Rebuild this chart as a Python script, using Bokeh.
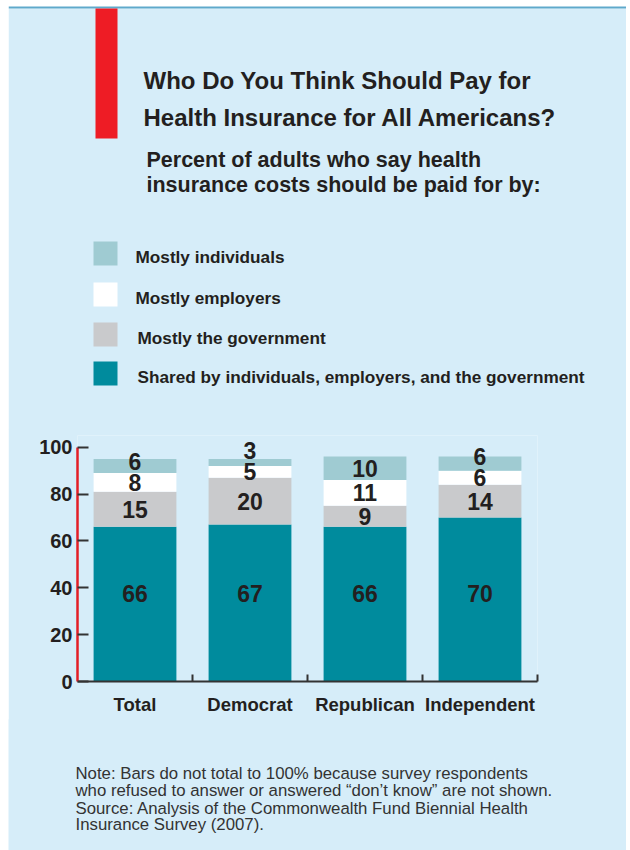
import numpy as np
from bokeh.plotting import figure
from bokeh.models import Range1d, FixedTicker, ColumnDataSource
from bokeh.core.properties import value
from bokeh.embed import file_html
from bokeh.resources import INLINE

# ---------------- data ----------------
categories = ["Total", "Democrat", "Republican", "Independent"]
series_names = [
    "Shared by individuals, employers, and the government",
    "Mostly the government",
    "Mostly employers",
    "Mostly individuals",
]
shared = [66, 67, 66, 70]
government = [15, 20, 9, 14]
employers = [8, 5, 11, 6]
individuals = [6, 3, 10, 6]
y_ticks = [0, 20, 40, 60, 80, 100]

title_lines = ["Who Do You Think Should Pay for", "Health Insurance for All Americans?"]
subtitle_lines = ["Percent of adults who say health", "insurance costs should be paid for by:"]
note_lines = [
    "Note: Bars do not total to 100% because survey respondents",
    "who refused to answer or answered \u201cdon\u2019t know\u201d are not shown.",
    "Source: Analysis of the Commonwealth Fund Biennial Health",
    "Insurance Survey (2007).",
]

# ---------------- style ----------------
colors = ["#008b9d", "#c9cacc", "#ffffff", "#9fcbd2"]
BG = "#d6edf9"
INK = "#231f20"
SANS = "Liberation Sans"
W = 618

def panel_figure(height, y0, y1, bg, top_margin):
    f = figure(width=W, height=height, x_range=Range1d(8, 626), y_range=Range1d(y1, y0),
               output_backend="svg", toolbar_location=None, x_axis_type=None,
               y_axis_type=None, min_border=0, outline_line_color=None,
               background_fill_color=bg, border_fill_color=bg,
               margin=(top_margin, 4, 0, 8))
    f.grid.visible = False
    return f

# ---------------- header (page y 0..430) ----------------
head = panel_figure(430, 0, 430, "white", 0)
head.quad(left=8, right=626, top=8, bottom=430, fill_color=BG, line_color=None)
head.quad(left=8, right=626, top=6, bottom=8, fill_color="#5fa9cb", line_color=None)
head.quad(left=95, right=117, top=8, bottom=138, fill_color="#ee1c25", line_color=None)

head.text(x=[143, 143], y=[80, 117], text=title_lines, text_font=value(SANS),
          text_font_style="bold", text_font_size="24px", text_color=INK,
          text_baseline="alphabetic", text_align="left")
head.text(x=[146, 146], y=[159, 184], text=subtitle_lines, text_font=value(SANS),
          text_font_style="bold", text_font_size="21.5px", text_color=INK,
          text_baseline="alphabetic", text_align="left")

leg_names = series_names[::-1]
leg_colors = colors[::-1]
leg_y = [253, 294, 334, 373]
head.rect(x=[105] * 4, y=leg_y, width=24, height=24, fill_color=leg_colors, line_color=None)
head.text(x=[135, 135, 137, 137], y=[y + 3 for y in leg_y], text=leg_names,
          text_font=value(SANS), text_font_style="bold", text_font_size="17.2px",
          text_color=INK, text_baseline="middle", text_align="left")

# ---------------- chart (page y 429..720) ----------------
centers = [i + 0.5 for i in range(len(categories))]
bounds = [i + 1.0 for i in range(len(categories))]
Y_END = 105

chart = figure(width=W, height=291, x_range=Range1d(0, len(categories)),
               y_range=Range1d(0, Y_END), output_backend="svg", toolbar_location=None,
               min_border_left=69, min_border_right=89, min_border_top=6, min_border_bottom=39,
               background_fill_color=BG, border_fill_color=BG, outline_line_color=None,
               margin=(-1, 4, 0, 8))
chart.grid.visible = False

source = ColumnDataSource(dict(pos=centers, shared=shared, government=government,
                               employers=employers, individuals=individuals))
chart.vbar_stack(["shared", "government", "employers", "individuals"], x="pos", width=0.72,
                 fill_color=colors, line_color=None, source=source)

yax = chart.yaxis[0]
yax.ticker = FixedTicker(ticks=y_ticks)
yax.bounds = (0, 100)
yax.axis_line_color = "#e31e26"
yax.axis_line_width = 2.5
yax.major_tick_in = 11
yax.major_tick_out = 0
yax.major_tick_line_color = "#333333"
yax.major_tick_line_width = 2
yax.minor_tick_line_color = None
yax.major_label_text_font = SANS
yax.major_label_text_font_style = "bold"
yax.major_label_text_font_size = "20px"
yax.major_label_text_color = INK
yax.major_label_standoff = 5

xax = chart.xaxis[0]
xax.ticker = FixedTicker(ticks=centers, minor_ticks=bounds)
xax.major_label_overrides = {c: n for c, n in zip(centers, categories)}
xax.major_tick_in = 0
xax.major_tick_out = 0
xax.minor_tick_in = 7
xax.minor_tick_out = 0
xax.minor_tick_line_color = "#333333"
xax.minor_tick_line_width = 2
xax.axis_line_color = "#333333"
xax.axis_line_width = 2
xax.major_label_standoff = 12
xax.major_label_text_font = SANS
xax.major_label_text_font_style = "bold"
xax.major_label_text_font_size = "18.5px"
xax.major_label_text_color = INK

# value labels: segment centres, pushed up when crowded
stack = np.array([shared, government, employers, individuals], dtype=float)
tops = stack.cumsum(axis=0)
lab_y = tops - stack / 2
lab_y[0] = np.maximum(lab_y[0], 37.5)
for i in range(1, lab_y.shape[0]):
    lab_y[i] = np.maximum(lab_y[i], lab_y[i - 1] + 9)
lab_src = ColumnDataSource(dict(
    x=[c for row in range(stack.shape[0]) for c in centers],
    y=lab_y.flatten().tolist(),
    t=[str(int(v)) for v in stack.flatten()],
))
chart.text(x="x", y="y", text="t", source=lab_src, text_font=value(SANS),
           text_font_style="bold", text_font_size="23px", text_color=INK,
           text_align="center", text_baseline="middle")

# ---------------- note (page y 719..850) ----------------
note = panel_figure(131, 719, 850, BG, -1)
note.text(x=[75] * 4, y=[773, 790, 807.5, 824], text=note_lines, text_font=value(SANS),
          text_font_size="16.8px", text_color="#333333", text_baseline="alphabetic",
          text_align="left")

open("out.html", "w").write(file_html([head, chart, note], INLINE))
